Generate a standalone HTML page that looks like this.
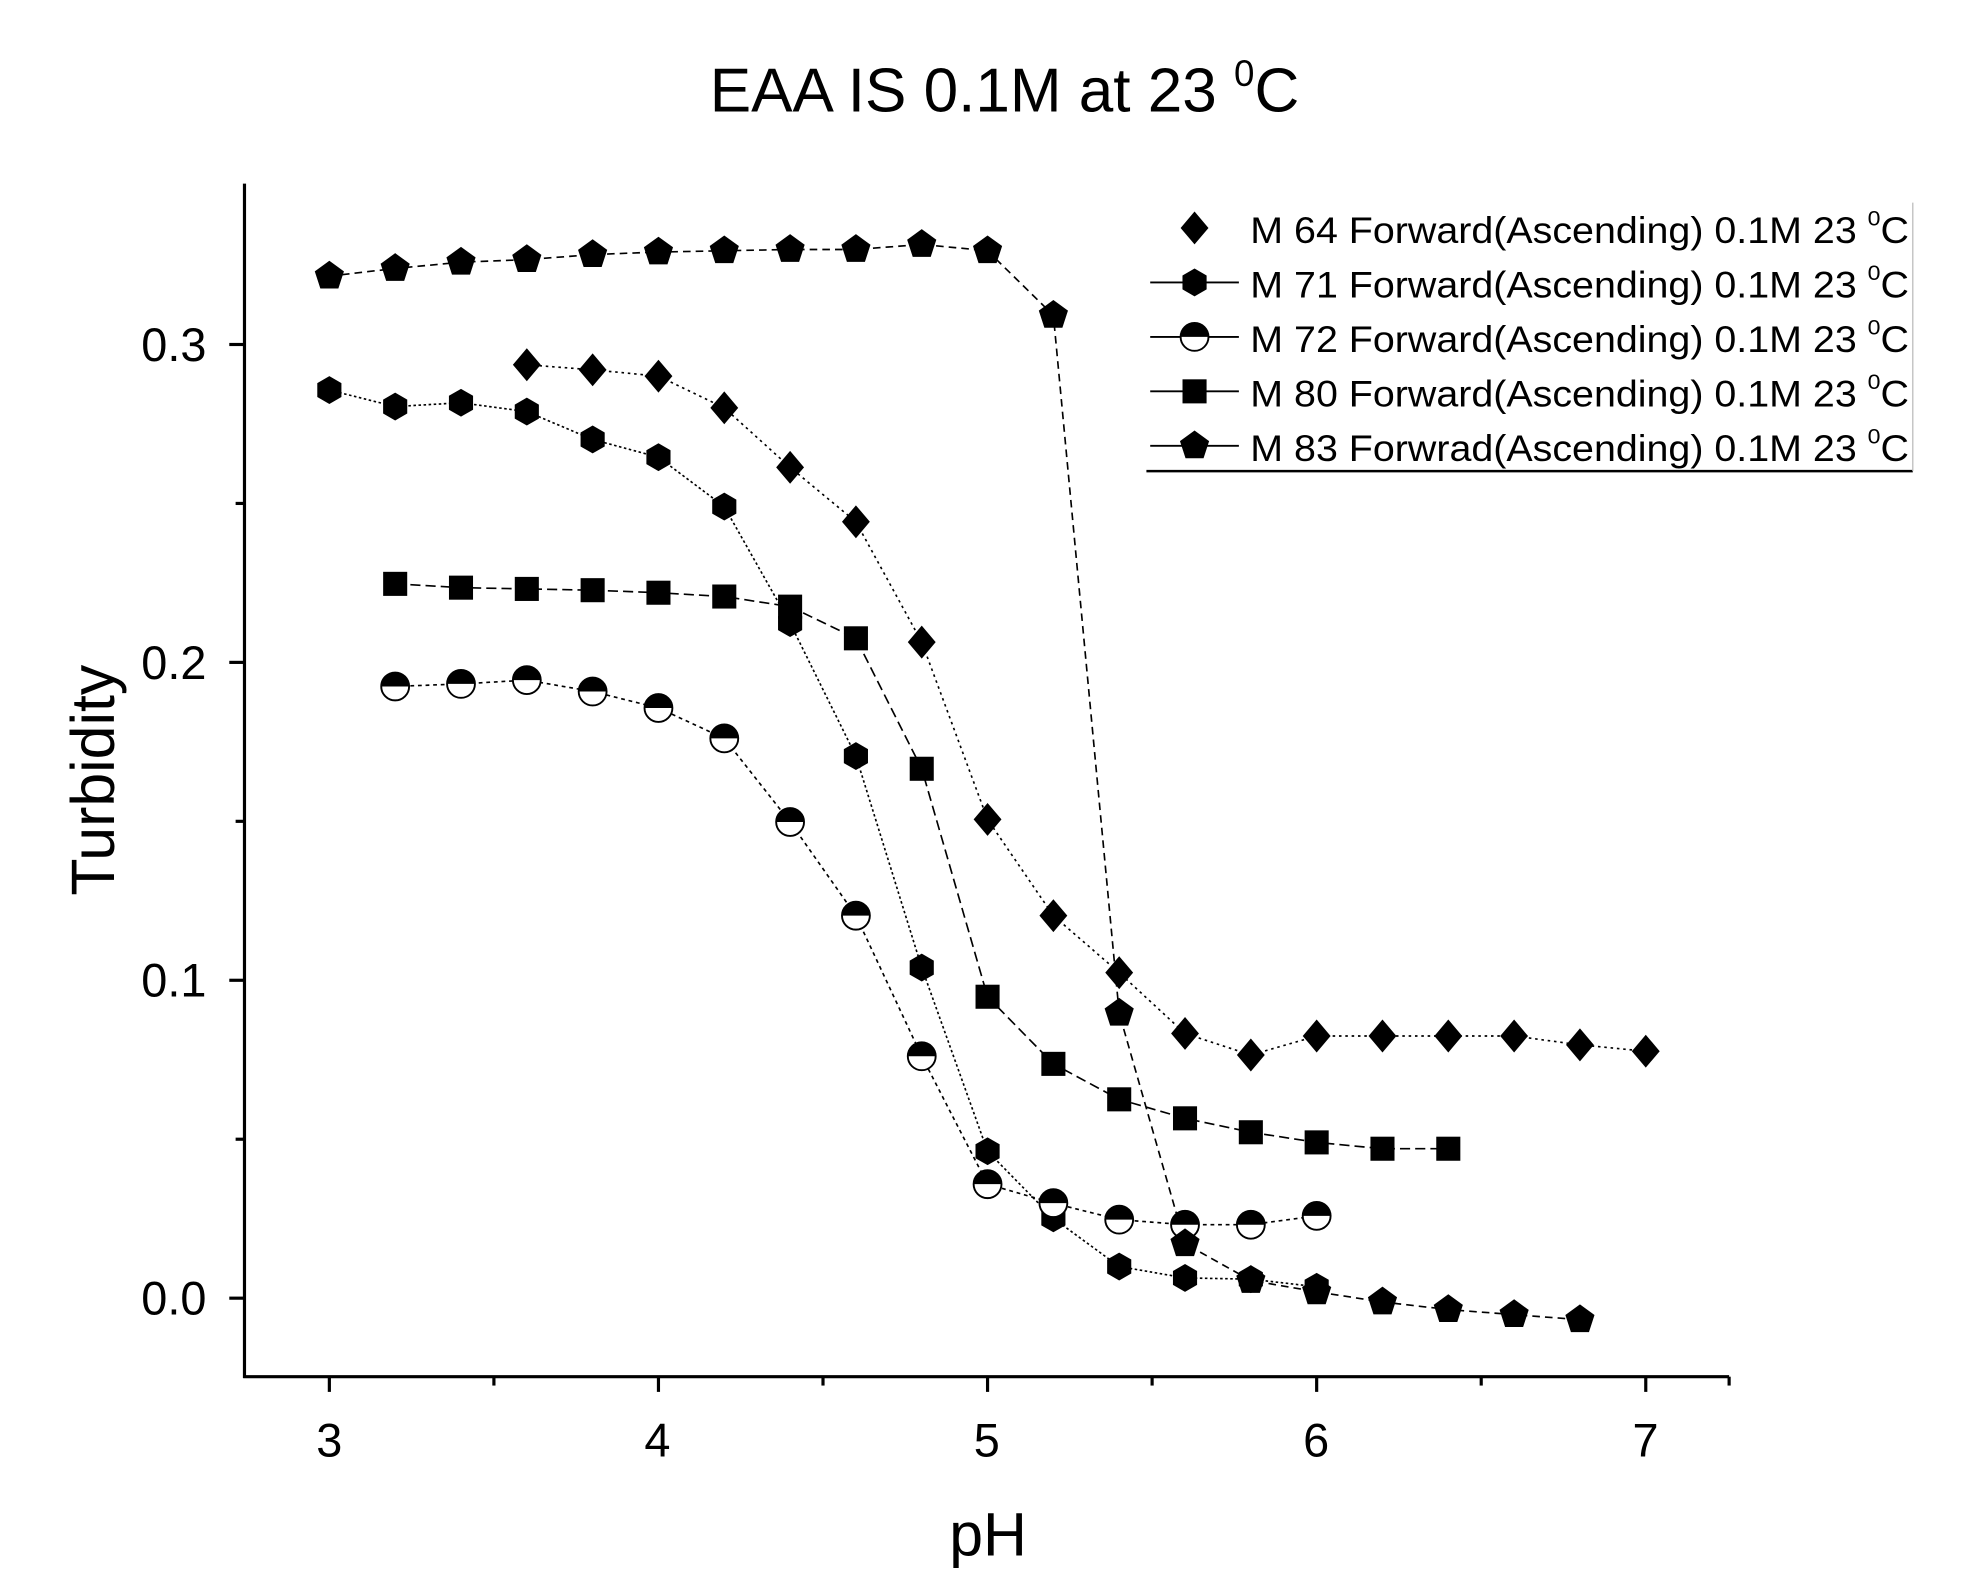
<!DOCTYPE html>
<html><head><meta charset="utf-8"><style>html,body{margin:0;padding:0;background:#fff}svg{display:block}</style></head>
<body>
<svg id="s" width="1985" height="1592" viewBox="0 0 1567 1257" preserveAspectRatio="none" xmlns="http://www.w3.org/2000/svg" font-family="Liberation Sans, sans-serif">
<text x="793" y="88" font-size="49" text-anchor="middle">EAA IS 0.1M at 23 <tspan font-size="29" dy="-20">0</tspan><tspan dy="20">C</tspan></text>
<g stroke="#000" stroke-width="2.5" fill="none">
<line x1="193" y1="145" x2="193" y2="1088"/>
<line x1="192" y1="1087" x2="1365" y2="1087"/>
</g>
<g id="ticks" stroke="#000" stroke-width="2.5"></g>
<g font-size="37" text-anchor="middle">
<text x="260" y="1150">3</text><text x="519" y="1150">4</text><text x="779" y="1150">5</text><text x="1039" y="1150">6</text><text x="1299" y="1150">7</text>
</g>
<g font-size="37" text-anchor="end">
<text x="163" y="1038">0.0</text><text x="163" y="787">0.1</text><text x="163" y="536">0.2</text><text x="163" y="285">0.3</text>
</g>
<text x="780" y="1228" font-size="48" text-anchor="middle">pH</text>
<text transform="translate(90,616) rotate(-90)" font-size="48" text-anchor="middle">Turbidity</text>
<g id="series"></g>
<g id="legend">
<line x1="905" y1="372" x2="1510" y2="372" stroke="#000" stroke-width="2"/>
<line x1="1510" y1="160" x2="1510" y2="372" stroke="#bbb" stroke-width="1"/>
<g font-size="29">
<text x="987" y="192" textLength="520" lengthAdjust="spacingAndGlyphs">M 64 Forward(Ascending) 0.1M 23 <tspan font-size="17" dy="-14">0</tspan><tspan dy="14">C</tspan></text>
<text x="987" y="235" textLength="520" lengthAdjust="spacingAndGlyphs">M 71 Forward(Ascending) 0.1M 23 <tspan font-size="17" dy="-14">0</tspan><tspan dy="14">C</tspan></text>
<text x="987" y="278" textLength="520" lengthAdjust="spacingAndGlyphs">M 72 Forward(Ascending) 0.1M 23 <tspan font-size="17" dy="-14">0</tspan><tspan dy="14">C</tspan></text>
<text x="987" y="321" textLength="520" lengthAdjust="spacingAndGlyphs">M 80 Forward(Ascending) 0.1M 23 <tspan font-size="17" dy="-14">0</tspan><tspan dy="14">C</tspan></text>
<text x="987" y="364" textLength="520" lengthAdjust="spacingAndGlyphs">M 83 Forwrad(Ascending) 0.1M 23 <tspan font-size="17" dy="-14">0</tspan><tspan dy="14">C</tspan></text>
</g>
</g>
</svg>
<script>
var NS="http://www.w3.org/2000/svg";
function el(p,t,a){var e=document.createElementNS(NS,t);for(var k in a)e.setAttribute(k,a[k]);p.appendChild(e);return e;}
var T=document.getElementById('ticks');
for(var v=3;v<=7.001;v+=0.5){var x=260+(v-3)*259.8;el(T,'line',{x1:x,y1:1087,x2:x,y2:(Math.abs(v-Math.round(v))<0.01?1099:1094)});}
el(T,'line',{x1:1365,y1:1087,x2:1365,y2:1094});
for(var i=0;i<=6;i++){var y=1025-i*125.5;if(y<145)continue;el(T,'line',{x1:193,y1:y,x2:(i%2==0?181:186),y2:y});}
function X(v){return 260+(v-3)*259.8;}
function mk(g,type,x,y){
 var r=11;
 if(type=='d'){el(g,'polygon',{points:[x,y-r-2,x+r,y,x,y+r+2,x-r,y].join(' '),fill:'#000'});}
 else if(type=='h'){var p=[];for(var k=0;k<6;k++){var a=Math.PI/2+k*Math.PI/3;p.push(x+r*Math.cos(a),y-r*Math.sin(a));}el(g,'polygon',{points:p.join(' '),fill:'#000'});}
 else if(type=='c'){el(g,'circle',{cx:x,cy:y,r:r,fill:'#fff',stroke:'#000','stroke-width':1.5});el(g,'path',{d:'M'+(x-r)+' '+y+' A'+r+' '+r+' 0 0 1 '+(x+r)+' '+y+' Z',fill:'#000'});}
 else if(type=='s'){el(g,'rect',{x:x-9.5,y:y-9.5,width:19,height:19,fill:'#000'});}
 else if(type=='p'){var p=[];for(var k=0;k<5;k++){var a=Math.PI/2+k*2*Math.PI/5;p.push(x+r*1.1*Math.cos(a),y-r*1.1*Math.sin(a));}el(g,'polygon',{points:p.join(' '),fill:'#000'});}
}
var S=document.getElementById('series');
var data=[
['d',3.6,[288,292,297,322,369,412,507,647,723,768,816,833,818,818,818,818,825,830],'2 3'],
['h',3.0,[308,321,318,325,347,361,400,492,597,764,909,962,1000,1009,1010,1016],'2 2'],
['c',3.2,[542,540,537,546,559,583,649,723,834,935,950,963,967,967,960],'3 3'],
['s',3.2,[461,464,465,466,468,471,479,504,607,787,840,868,883,894,902,907,907],'8 4'],
['p',3.0,[218,212,207,205,201,199,198,197,197,193,198,249,800,982,1011,1020,1028,1034,1038,1042],'6 4']
];
data.forEach(function(s){var pts=s[2].map(function(y,i){return X(s[1]+i*0.2)+','+y;});
 el(S,'polyline',{points:pts.join(' '),fill:'none',stroke:'#000','stroke-width':1.3,'stroke-dasharray':s[3]});});
data.forEach(function(s){s[2].forEach(function(y,i){mk(S,s[0],X(s[1]+i*0.2),y);});});
var L=document.getElementById('legend');
var ly=[180,223,266,309,352],lt=['d','h','c','s','p'];
for(var i=0;i<5;i++){if(i>0)el(L,'line',{x1:908,y1:ly[i],x2:978,y2:ly[i],stroke:'#000','stroke-width':1.5});mk(L,lt[i],943,ly[i]);}
</script>
</body></html>
